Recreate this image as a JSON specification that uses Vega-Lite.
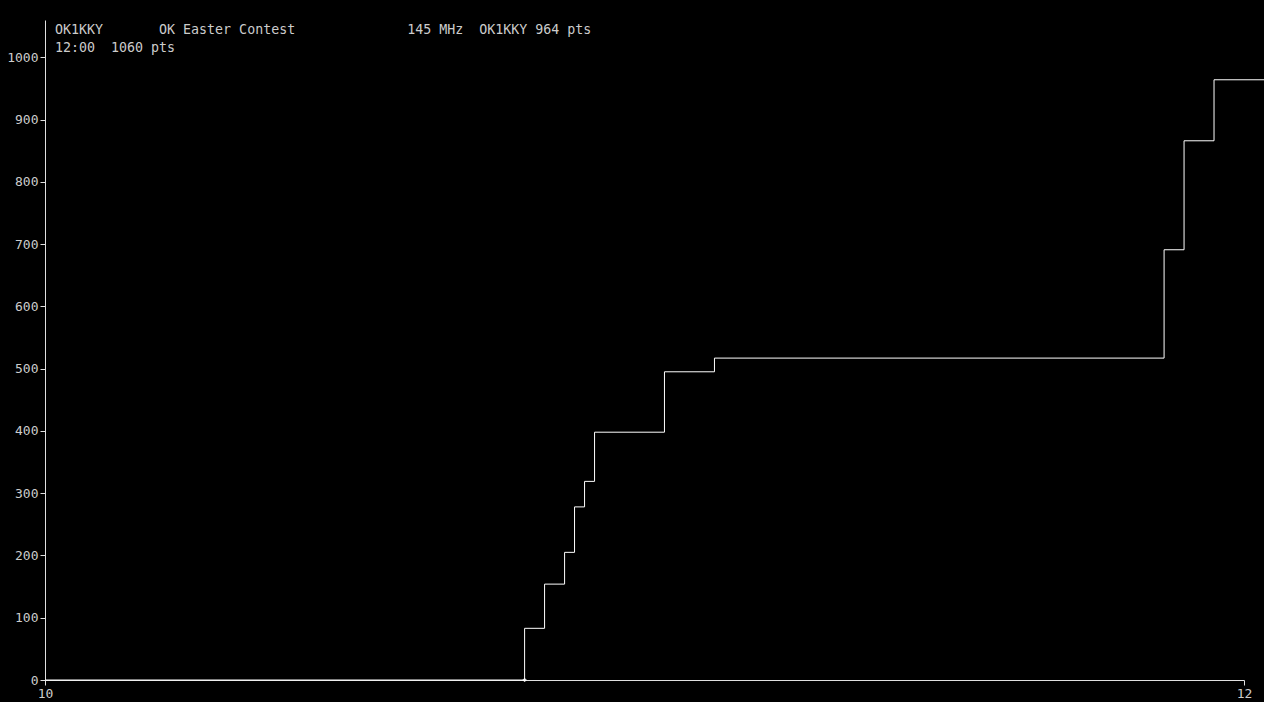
{
  "$schema": "https://vega.github.io/schema/vega-lite/v6.json",
  "width": 1199,
  "height": 660,
  "autosize": "none",
  "padding": {"left": 45, "top": 20, "right": 20, "bottom": 22},
  "background": "black",
  "title": {
    "text": [
      "OK1KKY\u00a0\u00a0\u00a0\u00a0\u00a0\u00a0\u00a0OK\u00a0Easter\u00a0Contest\u00a0\u00a0\u00a0\u00a0\u00a0\u00a0\u00a0\u00a0\u00a0\u00a0\u00a0\u00a0\u00a0\u00a0145\u00a0MHz\u00a0\u00a0OK1KKY\u00a0964\u00a0pts",
      "12:00\u00a0\u00a01060\u00a0pts"
    ],
    "anchor": "start",
    "frame": "group",
    "orient": "top",
    "baseline": "top",
    "offset": 0,
    "dx": 10,
    "dy": 34,
    "lineHeight": 18,
    "font": "DejaVu Sans Mono",
    "fontSize": 13.3,
    "fontWeight": "normal",
    "color": "#cccccc"
  },
  "data": {
    "values": [
      {"hour": 10.0, "pts": 0},
      {"hour": 10.8, "pts": 83},
      {"hour": 10.8333, "pts": 154},
      {"hour": 10.8667, "pts": 205},
      {"hour": 10.8833, "pts": 278},
      {"hour": 10.9, "pts": 319},
      {"hour": 10.9167, "pts": 398},
      {"hour": 11.0333, "pts": 495},
      {"hour": 11.1167, "pts": 517},
      {"hour": 11.8667, "pts": 691},
      {"hour": 11.9, "pts": 866},
      {"hour": 11.95, "pts": 964},
      {"hour": 12.04, "pts": 964}
    ]
  },
  "layer": [
    {
      "mark": {"type": "line", "interpolate": "step-after", "color": "white", "strokeWidth": 1},
      "encoding": {
        "x": {
          "field": "hour",
          "type": "quantitative",
          "scale": {"domain": [10, 12], "nice": false, "zero": false},
          "axis": {"values": [10, 11, 12], "title": null, "format": "d", "labelFlush": false}
        },
        "y": {
          "field": "pts",
          "type": "quantitative",
          "scale": {"domain": [0, 1060], "nice": false},
          "axis": {"values": [0, 100, 200, 300, 400, 500, 600, 700, 800, 900, 1000], "title": null, "format": "d"}
        }
      }
    },
    {
      "transform": [{"filter": "datum.hour == 10.8"}],
      "mark": {"type": "point", "shape": "cross", "filled": true, "size": 14, "color": "white", "opacity": 1},
      "encoding": {
        "x": {"field": "hour", "type": "quantitative"},
        "y": {"value": 660}
      }
    }
  ],
  "config": {
    "view": {"stroke": null},
    "axis": {
      "grid": false,
      "domainColor": "#e0e0e0",
      "tickColor": "#e0e0e0",
      "tickSize": 5,
      "labelColor": "#cccccc",
      "labelFont": "DejaVu Sans Mono",
      "labelFontSize": 13,
      "labelPadding": 2
    }
  }
}
